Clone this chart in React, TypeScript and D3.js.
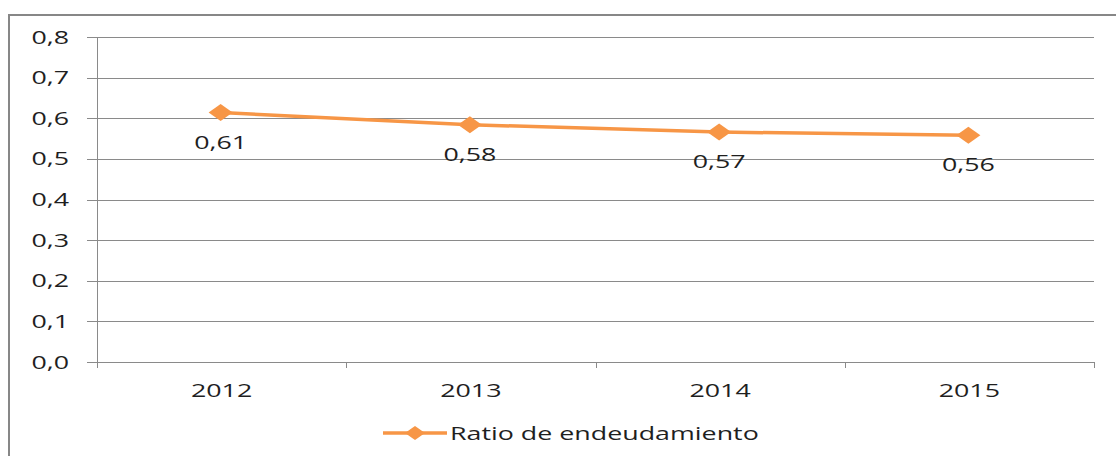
import { useEffect, useRef } from 'react'
import * as d3 from 'd3'

// Ratio de endeudamiento, 2012–2015
const years = ['2012', '2013', '2014', '2015']
const ratio = [0.614, 0.584, 0.566, 0.558]
const yTicks = [0, 0.1, 0.2, 0.3, 0.4, 0.5, 0.6, 0.7, 0.8]
const seriesName = 'Ratio de endeudamiento'

const ORANGE = '#f79646'
const GRID = '#8a8a8a'
const TEXT = '#1f1f1f'
const FONT = '"Open Sans", "DejaVu Sans", sans-serif'
const SX = 1.45 // the source image is stretched horizontally

const App = () => {
  const ref = useRef<SVGSVGElement>(null)

  useEffect(() => {
    if (!ref.current) return
    const svg = d3.select(ref.current)
    svg.selectAll('*').remove()

    const W = 1116
    const H = 456
    const plot = { left: 97, right: 1094, top: 37, bottom: 362 }

    const x = d3.scaleBand().domain(years).range([plot.left, plot.right])
    const y = d3.scaleLinear().domain([0, 0.8]).range([plot.bottom, plot.top])
    const fmt = (v: number, d: number) => v.toFixed(d).replace('.', ',')

    svg.append('rect').attr('width', W).attr('height', H).attr('fill', '#fff')

    // outer chart frame (cut off right and bottom)
    svg
      .append('rect')
      .attr('x', 9)
      .attr('y', 15)
      .attr('width', 1300)
      .attr('height', 800)
      .attr('fill', 'none')
      .attr('stroke', '#878787')
      .attr('stroke-width', 2)

    // horizontal grid + y ticks
    svg
      .append('g')
      .selectAll('line')
      .data(yTicks)
      .enter()
      .append('line')
      .attr('x1', plot.left - 10)
      .attr('x2', plot.right)
      .attr('y1', (d) => Math.round(y(d)) + 0.5)
      .attr('y2', (d) => Math.round(y(d)) + 0.5)
      .attr('stroke', GRID)
      .attr('stroke-width', 1)

    // y axis line
    svg
      .append('line')
      .attr('x1', plot.left + 0.5)
      .attr('x2', plot.left + 0.5)
      .attr('y1', plot.top)
      .attr('y2', plot.bottom + 6)
      .attr('stroke', GRID)

    // x tick marks at band edges
    const edges = years.map((yr) => x(yr)!).concat([plot.right])
    svg
      .append('g')
      .selectAll('line')
      .data(edges)
      .enter()
      .append('line')
      .attr('x1', (d) => Math.round(d) + 0.5)
      .attr('x2', (d) => Math.round(d) + 0.5)
      .attr('y1', plot.bottom)
      .attr('y2', plot.bottom + 6)
      .attr('stroke', GRID)

    const stretchedText = (
      parent: d3.Selection<any, any, any, any>,
      tx: number,
      ty: number,
      txt: string,
      anchor: string,
      size = 18.5
    ) => {
      parent
        .append('text')
        .attr('transform', `translate(${tx},${ty}) scale(${SX},1)`)
        .attr('text-anchor', anchor)
        .style('font-family', FONT)
        .style('font-size', `${size}px`)
        .style('fill', TEXT)
        .text(txt)
    }

    // y tick labels
    const yl = svg.append('g')
    yTicks.forEach((t) => stretchedText(yl, 69, y(t) + 6.5, fmt(t, 1), 'end'))

    // x labels
    const xl = svg.append('g')
    years.forEach((yr) => stretchedText(xl, x(yr)! + x.bandwidth() / 2, 397, yr, 'middle'))

    // line
    const cx = (i: number) => x(years[i])! + x.bandwidth() / 2 - 1
    const line = d3
      .line<number>()
      .x((_, i) => cx(i))
      .y((d) => y(d))
    svg
      .append('path')
      .datum(ratio)
      .attr('d', line)
      .attr('fill', 'none')
      .attr('stroke', ORANGE)
      .attr('stroke-width', 3.5)
      .attr('stroke-linejoin', 'round')

    // markers
    const diamond = 'M -12 0 L 0 -8.5 L 12 0 L 0 8.5 Z'
    svg
      .append('g')
      .selectAll('path')
      .data(ratio)
      .enter()
      .append('path')
      .attr('d', diamond)
      .attr('transform', (d, i) => `translate(${cx(i)},${y(d)})`)
      .attr('fill', ORANGE)

    // data labels
    const dl = svg.append('g')
    ratio.forEach((v, i) => stretchedText(dl, cx(i), y(v) + 36, fmt(v, 2), 'middle'))

    // legend
    const lg = svg.append('g')
    lg.append('line')
      .attr('x1', 383)
      .attr('x2', 447)
      .attr('y1', 433)
      .attr('y2', 433)
      .attr('stroke', ORANGE)
      .attr('stroke-width', 3.5)
    lg.append('path')
      .attr('d', 'M -10 0 L 0 -7 L 10 0 L 0 7 Z')
      .attr('transform', 'translate(415,433)')
      .attr('fill', ORANGE)
    stretchedText(lg, 450, 440, seriesName, 'start')
  }, [])

  return (
    <div style={{ position: 'absolute', left: 0, top: 0 }}>
      <svg ref={ref} width={1116} height={456} style={{ display: 'block' }} />
    </div>
  )
}

export default App
